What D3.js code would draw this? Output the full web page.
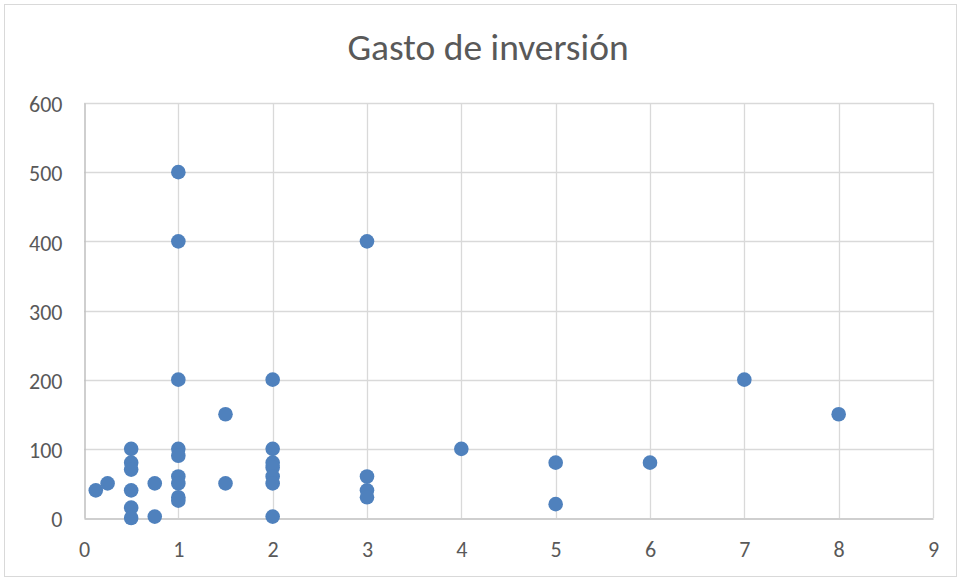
<!DOCTYPE html>
<html>
<head>
<meta charset="utf-8">
<script src="https://cdn.jsdelivr.net/npm/d3@7"></script>
<style>
  body { margin: 0; background: #fff; }
  svg { display: block; }
  text { font-family: Carlito, "Open Sans", "Noto Sans", sans-serif; fill: #595959; }
</style>
</head>
<body>
<svg id="chart" width="958" height="578"></svg>
<script>
// data
const xValues = [0.125, 0.25, 0.5, 0.5, 0.5, 0.5, 0.5, 0.5, 0.75, 0.75,
                 1, 1, 1, 1, 1, 1, 1, 1, 1, 1.5, 1.5,
                 2, 2, 2, 2, 2, 2, 2, 3, 3, 3, 3, 4, 5, 5, 6, 7, 8];
const yValues = [40, 50, 100, 80, 70, 40, 15, 0, 50, 2,
                 500, 400, 200, 100, 90, 60, 50, 30, 25, 150, 50,
                 200, 100, 80, 73, 60, 50, 2, 400, 60, 40, 30, 100, 80, 20, 80, 200, 150];
const xTicks = [0, 1, 2, 3, 4, 5, 6, 7, 8, 9];
const yTicks = [0, 100, 200, 300, 400, 500, 600];
const title = 'Gasto de inversión';

const svg = d3.select('#chart');
const plotLeft = 84, plotRight = 933, plotTop = 103, plotBottom = 518;

// chart frame
svg.append('rect')
    .attr('x', 4.5).attr('y', 4.5)
    .attr('width', 952).attr('height', 572)
    .attr('fill', '#fff')
    .attr('stroke', '#d9d9d9');

const x = d3.scaleLinear().domain([0, 9]).range([plotLeft, plotRight]);
const y = d3.scaleLinear().domain([0, 600]).range([plotBottom, plotTop]);

// gridlines
svg.append('g')
    .selectAll('line')
    .data(yTicks.slice(1))
    .join('line')
    .attr('x1', plotLeft).attr('x2', plotRight)
    .attr('y1', d => Math.round(y(d)) + 0.5).attr('y2', d => Math.round(y(d)) + 0.5)
    .attr('stroke', '#d9d9d9').attr('stroke-width', 1.3);
svg.append('g')
    .selectAll('line')
    .data(xTicks.slice(1))
    .join('line')
    .attr('x1', d => Math.round(x(d)) + 0.5).attr('x2', d => Math.round(x(d)) + 0.5)
    .attr('y1', plotTop).attr('y2', plotBottom)
    .attr('stroke', '#d9d9d9').attr('stroke-width', 1.3);

// axes
const xAxis = svg.append('g')
    .attr('transform', `translate(0,${plotBottom + 0.5})`)
    .call(d3.axisBottom(x).tickValues(xTicks).tickSize(0).tickPadding(23));
const yAxis = svg.append('g')
    .attr('transform', `translate(${plotLeft + 0.5},0)`)
    .call(d3.axisLeft(y).tickValues(yTicks).tickSize(0).tickPadding(22));
[xAxis, yAxis].forEach(a => {
    a.select('.domain').attr('stroke', '#bfbfbf').attr('stroke-width', 1.5);
    a.selectAll('text').attr('font-size', 22).attr('fill', '#595959')
        .style('font-family', 'Carlito, "Open Sans", sans-serif');
});
yAxis.selectAll('text').attr('dy', '0.4em');

// points
svg.append('g')
    .selectAll('circle')
    .data(xValues.map((d, i) => [d, yValues[i]]))
    .join('circle')
    .attr('cx', d => x(d[0]))
    .attr('cy', d => y(d[1]))
    .attr('r', 7.3)
    .attr('fill', '#4f81bd');

// title
svg.append('text')
    .attr('x', 488).attr('y', 60)
    .attr('text-anchor', 'middle')
    .attr('font-size', 37.5)
    .text(title);
</script>
</body>
</html>
